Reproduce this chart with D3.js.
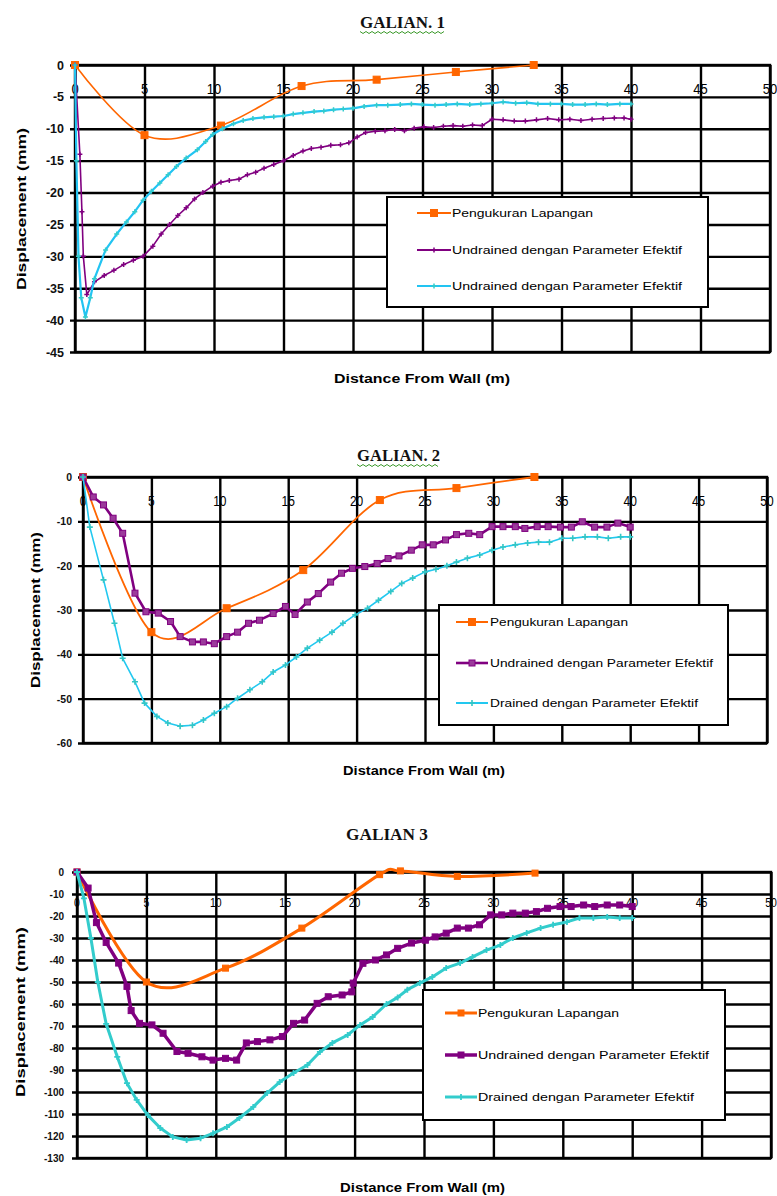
<!DOCTYPE html>
<html><head><meta charset="utf-8">
<script src="https://cdn.jsdelivr.net/npm/d3@7"></script>
<style>body{margin:0;background:#fff}svg{display:block}</style>
</head><body>
<svg id="c" width="777" height="1196"></svg>
<script>
// ---------- data ----------
const xTicks = [0, 5, 10, 15, 20, 25, 30, 35, 40, 45, 50];
const yTicks1 = [0, -5, -10, -15, -20, -25, -30, -35, -40, -45];
const yTicks2 = [0, -10, -20, -30, -40, -50, -60];
const yTicks3 = [0, -10, -20, -30, -40, -50, -60, -70, -80, -90, -100, -110, -120, -130];
const titles = ["GALIAN. 1", "GALIAN. 2", "GALIAN 3"];
const xTitle = "Distance From Wall (m)";
const yTitle = "Displacement (mm)";
const legend1 = ["Pengukuran Lapangan", "Undrained dengan Parameter Efektif", "Undrained dengan Parameter Efektif"];
const legend23 = ["Pengukuran Lapangan", "Undrained dengan Parameter Efektif", "Drained dengan Parameter Efektif"];

const g1Lapangan = [[0,0],[5,-11],[10.5,-9.5],[16.3,-3.3],[21.7,-2.3],[27.4,-1.1],[33,0]];
const g1Undrained = [[0,0],[0.35,-14],[0.5,-23],[0.6,-30],[0.85,-36],[1.4,-34],[2.1,-33],[2.8,-32.2],[3.5,-31.3],[4.2,-30.6],[4.9,-30],[5.6,-28.4],[6.2,-26.5],[6.8,-25],[7.4,-23.6],[8,-22.4],[8.6,-21],[9.2,-20],[9.9,-19],[10.5,-18.4],[11.1,-18.1],[11.8,-17.9],[12.4,-17.2],[13,-16.8],[13.6,-16.2],[14.3,-15.6],[15,-15],[15.7,-14.2],[16.4,-13.5],[17,-13.1],[17.7,-12.9],[18.4,-12.6],[19.1,-12.5],[19.7,-12.2],[20.3,-11.3],[20.9,-10.6],[21.6,-10.4],[22.3,-10.3],[23,-10.1],[23.7,-10.3],[24.4,-9.9],[25.1,-9.7],[25.8,-9.8],[26.5,-9.6],[27.2,-9.5],[27.9,-9.6],[28.6,-9.4],[29.3,-9.5],[30,-8.5],[30.8,-8.6],[31.6,-8.8],[32.4,-8.8],[33.2,-8.6],[34,-8.4],[34.8,-8.6],[35.6,-8.5],[36.4,-8.7],[37.2,-8.5],[38,-8.4],[38.8,-8.3],[39.5,-8.3],[40,-8.5]];
const g1Undrained2 = [[0,0],[0.1,-15],[0.25,-30],[0.45,-36.5],[0.75,-39.5],[1.1,-36.5],[1.4,-33.5],[2.2,-29],[3,-26.5],[3.7,-24.6],[4.3,-23],[4.9,-21.2],[5.5,-19.8],[6.1,-18.5],[6.7,-17.2],[7.3,-15.9],[8,-14.6],[8.8,-13.3],[9.4,-12],[9.9,-10.9],[10.6,-10],[11.4,-9.2],[12.1,-8.7],[12.8,-8.4],[13.6,-8.2],[14.3,-8.1],[15,-8],[15.7,-7.7],[16.4,-7.5],[17.2,-7.3],[17.9,-7.2],[18.6,-7],[19.3,-6.9],[20,-6.8],[20.8,-6.5],[21.7,-6.3],[22.5,-6.3],[23.4,-6.2],[24.2,-6.1],[25,-6.2],[25.9,-6.3],[26.7,-6.2],[27.5,-6.1],[28.4,-6.2],[29.2,-6.1],[30,-6],[30.8,-5.8],[31.7,-6],[32.5,-5.9],[33.3,-6.1],[34.2,-6.1],[35,-6.1],[35.8,-6.2],[36.7,-6.2],[37.5,-6.1],[38.3,-6.2],[39.2,-6.1],[40,-6.1]];

const g2Lapangan = [[0,0],[5,-35],[10.5,-29.6],[16.1,-21],[21.7,-5.2],[27.3,-2.5],[33,0]];
const g2Undrained = [[0,0],[0.75,-4.5],[1.5,-6.3],[2.2,-9.3],[2.9,-12.7],[3.8,-26.2],[4.6,-30.4],[5.5,-30.7],[6.4,-32.6],[7.1,-36],[8,-37.2],[8.8,-37.2],[9.6,-37.6],[10.5,-36],[11.3,-35],[12.1,-33],[12.9,-32.3],[13.9,-30.8],[14.8,-29.2],[15.5,-31],[16.4,-28.2],[17.2,-26.3],[18.1,-23.7],[18.9,-21.7],[19.7,-20.6],[20.6,-20.2],[21.5,-19.5],[22.3,-18.4],[23.1,-17.8],[24,-16.5],[24.8,-15.3],[25.6,-15.3],[26.5,-14.2],[27.3,-13],[28.2,-12.7],[29,-13],[29.9,-11.2],[30.7,-11.2],[31.6,-11.2],[32.3,-11.6],[33.2,-11.2],[34,-11.2],[34.9,-11.3],[35.7,-11.3],[36.5,-10.1],[37.4,-11.3],[38.3,-11.3],[39.1,-10.4],[40,-11.3]];
const g2Drained = [[0,0],[0.5,-11.3],[1.5,-23.2],[2.3,-33],[2.9,-40.9],[3.8,-46.2],[4.5,-51],[5.4,-54],[6.2,-55.5],[7.1,-56.2],[8,-56],[8.8,-54.8],[9.6,-53.3],[10.5,-51.8],[11.3,-49.9],[12.2,-48],[13.1,-46.2],[13.9,-44],[14.8,-42.4],[15.6,-40.6],[16.4,-38.6],[17.3,-36.8],[18.2,-35],[19,-33],[19.9,-31.1],[20.8,-29.6],[21.6,-27.8],[22.5,-25.8],[23.3,-24],[24.1,-22.8],[25,-21.4],[25.8,-20.8],[26.6,-20],[27.3,-19.2],[28.1,-18.3],[29,-17.6],[29.9,-16.5],[30.7,-15.8],[31.6,-15.3],[32.5,-14.9],[33.3,-14.7],[34.1,-14.7],[35,-13.8],[35.8,-13.8],[36.7,-13.5],[37.6,-13.5],[38.4,-13.8],[39.3,-13.5],[40,-13.5]];

const g3Lapangan = [[0,0],[5,-50],[10.7,-43.7],[16.2,-25.5],[21.8,-1.2],[23.3,0.5],[27.4,-2],[33,-0.5]];
const g3Undrained = [[0,0],[0.8,-7.3],[1.4,-23],[2.1,-32],[3,-41.4],[3.6,-52],[3.9,-63],[4.5,-68.8],[5.4,-69.5],[6.2,-73.3],[7.2,-81.6],[8,-82.4],[9,-84],[9.8,-85.5],[10.7,-84.7],[11.5,-85.5],[12.2,-77.7],[13,-77.1],[13.9,-76.3],[14.8,-74.8],[15.6,-68.8],[16.4,-67.3],[17.3,-59.7],[18.1,-56.7],[19.1,-55.9],[19.8,-54.5],[19.9,-50.5],[20.6,-41.5],[21.5,-40],[22.3,-37.7],[23.1,-34.7],[24.1,-32.3],[25.1,-31],[25.8,-29.5],[26.6,-27.8],[27.4,-25.5],[28.2,-25.5],[29,-24],[29.8,-19.5],[30.6,-19.5],[31.4,-18.7],[32.3,-18.7],[33.1,-18],[33.9,-16.5],[34.8,-15.7],[35.6,-15.7],[36.5,-15],[37.3,-15.7],[38.2,-15],[39.1,-15],[40,-15.7]];
const g3Drained = [[0,0],[0.5,-12],[1,-30],[1.5,-50],[2.1,-69],[2.9,-84],[3.6,-96],[4.3,-103.6],[5.1,-110.5],[6,-116.4],[6.9,-120.4],[7.9,-121.8],[8.9,-121],[9.8,-118.8],[10.8,-115.9],[11.7,-111.8],[12.7,-106.8],[13.7,-100.5],[14.6,-95.5],[15.6,-91.4],[16.6,-87.7],[17.5,-81.8],[18.4,-77.7],[19.5,-74.1],[20.4,-69.5],[21.3,-65.9],[22.3,-60],[23.1,-57],[23.8,-53.5],[24.7,-50.5],[25.6,-47.7],[26.6,-43.6],[27.6,-41.4],[28.5,-38.6],[29.5,-35.5],[30.5,-33.2],[31.4,-30],[32.4,-27.7],[33.4,-25.5],[34.3,-24],[35.3,-22.7],[36.2,-20.9],[37.2,-20.9],[38.2,-20.5],[39.1,-20.9],[40,-20.9]];

// ---------- drawing ----------
const SANS = "'Liberation Sans', Arial, Helvetica, sans-serif";
const SERIF = "'Liberation Serif', 'Times New Roman', serif";
const svg = d3.select('#c');
svg.append('rect').attr('width', 777).attr('height', 1196).attr('fill', '#fff');

function marker(sel, type, size, color, fill, sw) {
  if (type === 'square') {
    sel.append('rect').attr('x', -size / 2).attr('y', -size / 2).attr('width', size).attr('height', size)
      .attr('fill', fill || color).attr('stroke', color).attr('stroke-width', 1);
  } else if (type === 'plus') {
    sel.append('path').attr('d', `M${-size},0H${size}M0,${-size}V${size}`)
      .attr('stroke', color).attr('stroke-width', sw || 1.5).attr('fill', 'none');
  }
}

function drawChart(c) {
  const g = svg.append('g');
  const x = d3.scaleLinear().domain([0, 50]).range([c.left, c.right]);
  const y = d3.scaleLinear().domain([c.yMin, 0]).range([c.bottom, c.top]);
  const w = c.right - c.left, h = c.bottom - c.top;

  // title
  g.append('text').attr('x', c.titleX).attr('y', c.titleY).attr('font-family', SERIF)
    .attr('font-weight', 'bold').attr('font-size', 16).attr('textLength', c.titleW)
    .attr('lengthAdjust', 'spacingAndGlyphs').attr('fill', '#111').text(c.title);
  if (c.wavy) {
    const pts = d3.range(c.titleX, c.titleX + c.titleW, 3).map((px, i) => [px, c.titleY + 4 + (i % 2 ? 1.5 : -0.5)]);
    g.append('path').attr('d', d3.line()(pts)).attr('fill', 'none').attr('stroke', '#3c9a2c').attr('stroke-width', 1);
  }

  // horizontal grid + y labels
  const yg = g.append('g').attr('transform', `translate(${c.left},0)`)
    .call(d3.axisLeft(y).tickValues(c.yTicks).tickSizeInner(-w).tickSizeOuter(0).tickPadding(c.yPad).tickFormat(d => String(d)));
  yg.select('.domain').remove();
  yg.selectAll('.tick line').attr('x1', -5).attr('stroke', '#000').attr('stroke-width', c.gridW);
  yg.selectAll('.tick text').attr('font-size', c.yFont).attr('font-family', SANS)
    .attr('font-weight', 'bold').attr('fill', '#111');

  // vertical grid
  const xg = g.append('g').attr('transform', `translate(0,${c.top})`)
    .call(d3.axisBottom(x).tickValues(xTicks).tickSizeInner(h).tickSizeOuter(0).tickFormat(''));
  xg.select('.domain').remove();
  xg.selectAll('.tick line').attr('stroke', '#000').attr('stroke-width', c.gridW);
  g.append('rect').attr('x', c.left).attr('y', c.top).attr('width', w).attr('height', h)
    .attr('fill', 'none').attr('stroke', '#000').attr('stroke-width', c.gridW);

  // x labels (inside plot)
  g.selectAll('text.xl').data(xTicks).join('text').attr('class', 'xl')
    .attr('transform', d => `translate(${x(d)},${c.xLabY}) scale(1,${c.xLabSY})`)
    .attr('text-anchor', 'middle').attr('dominant-baseline', 'central')
    .attr('font-family', SANS).attr('font-size', c.xFont).attr('fill', '#000').text(d => d);

  // series
  c.series.forEach(s => {
    const line = d3.line().x(d => x(d[0])).y(d => y(d[1]))
      .curve(s.smooth ? d3.curveCardinal.tension(0) : d3.curveLinear);
    g.append('path').datum(s.data).attr('d', line).attr('fill', 'none')
      .attr('stroke', s.color).attr('stroke-width', s.width).attr('stroke-linejoin', 'round');
    g.selectAll(null).data(s.data).join('g')
      .attr('transform', d => `translate(${x(d[0])},${y(d[1])})`)
      .each(function () { marker(d3.select(this), s.marker, s.msize, s.mcolor || s.color, s.mfill, s.msw); });
  });

  // axis titles
  g.append('text').attr('x', c.xtX).attr('y', c.xtY).attr('font-family', SANS).attr('font-weight', 'bold')
    .attr('font-size', c.atFont).attr('textLength', c.xtW).attr('lengthAdjust', 'spacingAndGlyphs')
    .attr('fill', '#000').text(xTitle);
  g.append('text').attr('transform', `translate(${c.ytX},${c.ytY}) rotate(-90)`).attr('text-anchor', 'middle')
    .attr('dominant-baseline', 'central').attr('font-family', SANS).attr('font-weight', 'bold')
    .attr('font-size', c.atFont).attr('textLength', c.ytW).attr('lengthAdjust', 'spacingAndGlyphs')
    .attr('fill', '#000').text(yTitle);

  // legend
  const L = c.legend;
  g.append('rect').attr('x', L.x0).attr('y', L.y0).attr('width', L.x1 - L.x0).attr('height', L.y1 - L.y0)
    .attr('fill', '#fff').attr('stroke', '#000').attr('stroke-width', 2);
  c.series.forEach((s, i) => {
    const ly = L.rows[i];
    g.append('line').attr('x1', L.sx0).attr('x2', L.sx1).attr('y1', ly).attr('y2', ly)
      .attr('stroke', s.color).attr('stroke-width', Math.max(2, s.width));
    const mg = g.append('g').attr('transform', `translate(${(L.sx0 + L.sx1) / 2},${ly})`);
    marker(mg, s.marker, s.msize, s.mcolor || s.color, s.mfill, s.msw);
    g.append('text').attr('x', L.tx).attr('y', ly).attr('dominant-baseline', 'central')
      .attr('font-family', SANS).attr('font-size', 11.5).attr('fill', '#000')
      .attr('textLength', L.tw[i]).attr('lengthAdjust', 'spacingAndGlyphs').text(c.names[i]);
  });
}

drawChart({
  title: titles[0], titleX: 360, titleY: 28, titleW: 85, wavy: true,
  left: 75, right: 770, top: 65, bottom: 352, yMin: -45, yTicks: yTicks1,
  gridW: 2.4, yPad: 11, yFont: 12.5, xFont: 13, xLabY: 89, xLabSY: 1.1,
  atFont: 13, xtX: 334, xtY: 383, xtW: 176, ytX: 21, ytY: 209, ytW: 162,
  names: legend1,
  series: [
    { data: g1Lapangan, color: '#ff6600', width: 1.6, smooth: true, marker: 'square', msize: 7 },
    { data: g1Undrained, color: '#800080', width: 1.6, marker: 'plus', msize: 2.5, msw: 1.5 },
    { data: g1Undrained2, color: '#22c4f2', width: 2.2, marker: 'plus', msize: 2.5, mcolor: '#33cccc', msw: 1.5 }
  ],
  legend: { x0: 387, y0: 197, x1: 708, y1: 307, rows: [213, 250, 286], sx0: 417, sx1: 451, tx: 452, tw: [141, 230, 230] }
});

drawChart({
  title: titles[1], titleX: 357, titleY: 461, titleW: 83, wavy: true,
  left: 83, right: 767, top: 477, bottom: 743, yMin: -60, yTicks: yTicks2,
  gridW: 2.4, yPad: 11, yFont: 10.5, xFont: 12, xLabY: 501, xLabSY: 1.25,
  atFont: 12, xtX: 343, xtY: 775, xtW: 162, ytX: 36, ytY: 610, ytW: 156,
  names: legend23,
  series: [
    { data: g2Lapangan, color: '#ff6600', width: 1.8, smooth: true, marker: 'square', msize: 7 },
    { data: g2Undrained, color: '#800080', width: 2.6, marker: 'square', msize: 6, mfill: '#9b3a9b' },
    { data: g2Drained, color: '#22c8f0', width: 1.6, marker: 'plus', msize: 3, mcolor: '#33c6c6', msw: 1.6 }
  ],
  legend: { x0: 439, y0: 605, x1: 728, y1: 725, rows: [622, 663, 703], sx0: 456, sx1: 488, tx: 490, tw: [138, 223, 208] }
});

drawChart({
  title: titles[2], titleX: 346, titleY: 840, titleW: 82, wavy: false,
  left: 77, right: 771, top: 872, bottom: 1158, yMin: -130, yTicks: yTicks3,
  gridW: 2.4, yPad: 13, yFont: 10, xFont: 10.5, xLabY: 903, xLabSY: 1.2,
  atFont: 12, xtX: 340, xtY: 1192, xtW: 165, ytX: 21, ytY: 1012, ytW: 170,
  names: legend23,
  series: [
    { data: g3Lapangan, color: '#ff6600', width: 3, smooth: true, marker: 'square', msize: 6 },
    { data: g3Undrained, color: '#800080', width: 3.5, marker: 'square', msize: 6 },
    { data: g3Drained, color: '#33cccc', width: 3, marker: 'plus', msize: 3, msw: 1.8 }
  ],
  legend: { x0: 423, y0: 990, x1: 725, y1: 1120, rows: [1013, 1055, 1097], sx0: 445, sx1: 477, tx: 478, tw: [141, 231, 216] }
});
</script>
</body></html>
